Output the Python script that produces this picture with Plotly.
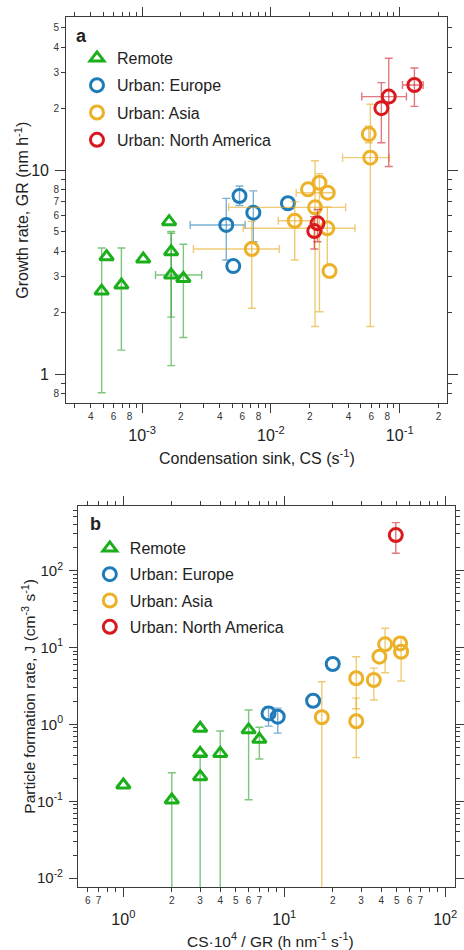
import plotly.graph_objects as go

# ---------------- Panel a : GR vs CS ----------------
a_remote_x = [4.85e-4, 5.3e-4, 6.9e-4, 1.02e-3, 1.62e-3, 1.68e-3, 1.68e-3, 2.09e-3]
a_remote_y = [2.55, 3.76, 2.73, 3.66, 5.58, 3.98, 3.06, 2.94]
a_remote_ylo = [0.81, None, 1.31, None, None, 1.9, 1.1, 1.51]
a_remote_yhi = [4.15, None, 4.15, None, None, 5.0, 4.9, 4.33]
a_remote_xlo = [None, None, None, None, None, None, 1.27e-3, None]
a_remote_xhi = [None, None, None, None, None, None, 2.9e-3, None]

a_eu_x = [0.0057, 0.0073, 0.0045, 0.0051, 0.01355]
a_eu_y = [7.46, 6.18, 5.38, 3.38, 6.87]
a_eu_ylo = [6.7, 4.45, 3.62, None, None]
a_eu_yhi = [8.35, 7.9, 7.26, None, None]
a_eu_xlo = [None, None, 0.00236, None, None]
a_eu_xhi = [None, None, 0.0063, None, None]

a_as_x = [0.0071, 0.0153, 0.0285, 0.0274, 0.022, 0.0194, 0.0238, 0.0276, 0.0575, 0.0591]
a_as_y = [4.1, 5.64, 3.2, 5.18, 6.56, 8.04, 8.66, 7.74, 15.0, 11.5]
a_as_ylo = [2.1, 3.62, None, 3.4, 1.71, None, 2.02, None, 13.6, 1.71]
a_as_yhi = [5.6, 7.0, None, 6.6, 11.1, None, 9.6, None, 16.4, 21.0]
a_as_xlo = [0.0025, 0.0114, None, 0.0061, 0.0047, None, None, 0.0157, None, 0.036]
a_as_xhi = [0.0116, 0.0215, None, 0.045, 0.038, None, None, 0.0306, None, 0.083]

a_na_x = [0.023, 0.0217, 0.072, 0.0822, 0.13]
a_na_y = [5.48, 5.02, 20.1, 22.9, 26.1]
a_na_ylo = [4.45, 4.1, 13.6, 10.4, 20.5]
a_na_yhi = [6.4, 5.9, 26.8, 35.3, 31.6]
a_na_xlo = [None, None, None, 0.0507, 0.105]
a_na_xhi = [None, None, None, 0.1127, 0.152]

# ---------------- Panel b : J vs CS*1e4/GR ----------------
# a lower bound of 0 means the bar runs off the bottom of the axis
b_remote_x = [1.0, 2.0, 3.0, 3.0, 3.0, 4.0, 6.0, 7.0]
b_remote_y = [0.163, 0.104, 0.89, 0.42, 0.209, 0.42, 0.85, 0.64]
b_remote_ylo = [None, 0, None, None, 0, 0, 0.105, 0.355]
b_remote_yhi = [None, 0.235, None, None, 0.4, 0.82, 1.54, 0.92]

b_eu_x = [7.98, 9.1, 15.1, 20.0]
b_eu_y = [1.39, 1.26, 2.03, 6.1]
b_eu_ylo = [0.95, 0.77, None, None]
b_eu_yhi = [1.7, 1.63, None, None]

b_as_x = [17.1, 28.0, 28.0, 36.0, 39.0, 42.3, 52.5, 53.2]
b_as_y = [1.24, 1.1, 3.98, 3.78, 7.6, 11.0, 11.3, 8.8]
b_as_ylo = [0, 0.37, 1.6, 2.08, None, 4.7, None, 3.67]
b_as_yhi = [3.59, 2.2, 7.6, 5.4, None, 17.8, None, 13.8]

b_na_x = [49.3]
b_na_y = [290.0]
b_na_ylo = [168.0]
b_na_yhi = [420.0]

series_names = ["Remote", "Urban: Europe", "Urban: Asia", "Urban: North America"]

# ---------------- tick labels ----------------
a_x_major = [1e-3, 1e-2, 1e-1]
a_x_major_text = ["10<sup>-3</sup>", "10<sup>-2</sup>", "10<sup>-1</sup>"]
a_x_minor = [3e-4, 4e-4, 5e-4, 6e-4, 7e-4, 8e-4, 9e-4] + [k * 1e-3 for k in range(2, 10)] + \
            [k * 1e-2 for k in range(2, 10)] + [2e-1]
a_x_lab = [4e-4, 6e-4, 8e-4, 2e-3, 4e-3, 6e-3, 8e-3, 2e-2, 4e-2, 6e-2, 8e-2, 2e-1]
a_x_lab_text = ["4", "6", "8", "2", "4", "6", "8", "2", "4", "6", "8", "2"]

a_y_major = [1, 10]
a_y_major_text = ["1", "10"]
a_y_minor = [0.8, 0.9] + list(range(2, 10)) + [20, 30, 40, 50]
a_y_lab = [0.8, 2, 3, 4, 5, 6, 7, 8, 20, 30, 40, 50]
a_y_lab_text = ["8", "2", "3", "4", "5", "6", "7", "8", "2", "3", "4", "5"]

b_x_major = [1, 10, 100]
b_x_major_text = ["10<sup>0</sup>", "10<sup>1</sup>", "10<sup>2</sup>"]
b_x_minor = [0.6, 0.7, 0.8, 0.9] + list(range(2, 10)) + [k * 10 for k in range(2, 10)]
b_x_lab = [0.6, 0.7, 2, 3, 4, 5, 6, 7, 20, 30, 40, 50, 60, 70]
b_x_lab_text = ["6", "7", "2", "3", "4", "5", "6", "7", "2", "3", "4", "5", "6", "7"]

b_y_major = [0.01, 0.1, 1, 10, 100]
b_y_major_text = ["10<sup>-2</sup>", "10<sup>-1</sup>", "10<sup>0</sup>", "10<sup>1</sup>", "10<sup>2</sup>"]
b_y_minor = [m * d for d in [0.01, 0.1, 1, 10, 100] for m in range(2, 10) if m * d < 700]

# ---------------- styles ----------------
W, H = 464, 950
FONT = "Arial, Liberation Sans, Helvetica, sans-serif"
AX = "#3a3a3a"
COLORS = ["#1caf1c", "#1f7bb8", "#ecb128", "#d9191f"]
ERRCOLORS = ["rgba(40,160,40,0.6)", "rgba(31,123,184,0.6)", "rgba(228,168,30,0.6)", "rgba(205,30,40,0.6)"]
SYMBOLS = ["triangle-up-open", "circle-open", "circle-open", "circle-open"]
SIZES = [12, 13, 13, 13]


def px(x):
    return x / W


def py(y):
    return 1 - y / H


fig = go.Figure()


def add_series(i, x, y, ylo, yhi, xlo, xhi, xa, ya, legend):
    n = len(x)
    iy = [k for k in range(n) if ylo[k] is not None]
    if iy:
        fig.add_trace(go.Scatter(
            x=[x[k] for k in iy], y=[y[k] for k in iy], mode="markers",
            marker=dict(size=2, opacity=0),
            error_y=dict(type="data", symmetric=False,
                         array=[yhi[k] - y[k] for k in iy],
                         arrayminus=[y[k] - ylo[k] for k in iy],
                         color=ERRCOLORS[i], thickness=1.4, width=4),
            showlegend=False, hoverinfo="skip", xaxis=xa, yaxis=ya))
    if xlo is not None:
        ix = [k for k in range(n) if xlo[k] is not None]
        if ix:
            fig.add_trace(go.Scatter(
                x=[x[k] for k in ix], y=[y[k] for k in ix], mode="markers",
                marker=dict(size=2, opacity=0),
                error_x=dict(type="data", symmetric=False,
                             array=[xhi[k] - x[k] for k in ix],
                             arrayminus=[x[k] - xlo[k] for k in ix],
                             color=ERRCOLORS[i], thickness=1.4, width=4),
                showlegend=False, hoverinfo="skip", xaxis=xa, yaxis=ya))
    fig.add_trace(go.Scatter(
        x=x, y=y, mode="markers", name=series_names[i],
        marker=dict(symbol=SYMBOLS[i], size=SIZES[i], color=COLORS[i],
                    line=dict(width=3, color=COLORS[i])),
        legend=legend, legendgroup=legend + str(i), xaxis=xa, yaxis=ya))


a_sets = [
    (a_remote_x, a_remote_y, a_remote_ylo, a_remote_yhi, a_remote_xlo, a_remote_xhi),
    (a_eu_x, a_eu_y, a_eu_ylo, a_eu_yhi, a_eu_xlo, a_eu_xhi),
    (a_as_x, a_as_y, a_as_ylo, a_as_yhi, a_as_xlo, a_as_xhi),
    (a_na_x, a_na_y, a_na_ylo, a_na_yhi, a_na_xlo, a_na_xhi),
]
for i, s in enumerate(a_sets):
    add_series(i, *s, xa="x", ya="y", legend="legend")

b_sets = [
    (b_remote_x, b_remote_y, b_remote_ylo, b_remote_yhi),
    (b_eu_x, b_eu_y, b_eu_ylo, b_eu_yhi),
    (b_as_x, b_as_y, b_as_ylo, b_as_yhi),
    (b_na_x, b_na_y, b_na_ylo, b_na_yhi),
]
for i, s in enumerate(b_sets):
    add_series(i, *s, None, None, xa="x2", ya="y2", legend="legend2")

# invisible anchor traces so the overlaid label axes get drawn
for xa, ya, xs, ys in [("x3", "y", a_x_lab, a_y_lab), ("x", "y3", a_x_lab, a_y_lab),
                       ("x4", "y2", b_x_lab, b_y_major)]:
    fig.add_trace(go.Scatter(x=[xs[3]], y=[ys[3]], mode="markers",
                             marker=dict(size=1, opacity=0), showlegend=False,
                             hoverinfo="skip", xaxis=xa, yaxis=ya))

# domains (pixels -> paper)
a_xdom = [px(67), px(453)]
a_ydom = [py(403), py(17)]
b_xdom = [px(79), px(461)]
b_ydom = [py(887), py(506)]
a_xr = [-3.59, -0.632]
a_yr = [-0.142, 1.75]
b_xr = [-0.282, 2.061]
b_yr = [-2.114, 2.84]


def base_axis(dom, rng, anchor, tv, tt, fs, tlen, standoff, minor_vals, mlen):
    return dict(type="log", domain=dom, range=rng, anchor=anchor,
                tickmode="array", tickvals=tv, ticktext=tt,
                tickfont=dict(size=fs, color="#222", family=FONT),
                ticks="outside", ticklen=tlen, tickwidth=1, tickcolor=AX,
                ticklabelstandoff=standoff,
                minor=dict(tickmode="array", tickvals=minor_vals, ticks="outside",
                           ticklen=mlen, tickwidth=1, tickcolor=AX, showgrid=False),
                showline=True, linecolor=AX, linewidth=1, mirror="ticks",
                showgrid=False, zeroline=False, fixedrange=True)


def label_axis(rng, overlay, anchor, side, tv, tt, fs, tlen):
    return dict(type="log", range=rng, overlaying=overlay, anchor=anchor, side=side,
                tickmode="array", tickvals=tv, ticktext=tt,
                tickfont=dict(size=fs, color="#333", family=FONT),
                ticks="outside", ticklen=tlen, tickwidth=1, tickcolor=AX,
                showline=False, showgrid=False, zeroline=False, fixedrange=True)


fig.update_layout(
    width=W, height=H, margin=dict(l=0, r=0, t=0, b=0),
    paper_bgcolor="white", plot_bgcolor="white",
    font=dict(family=FONT, color="#222"),
    showlegend=True,
    xaxis=base_axis(a_xdom, a_xr, "y", a_x_major, a_x_major_text, 16, 9, 9, a_x_minor, 4),
    yaxis=base_axis(a_ydom, a_yr, "x", a_y_major, a_y_major_text, 16, 10, 3, a_y_minor, 4),
    xaxis2=base_axis(b_xdom, b_xr, "y2", b_x_major, b_x_major_text, 16, 9, 9, b_x_minor, 4),
    yaxis2=base_axis(b_ydom, b_yr, "x2", b_y_major, b_y_major_text, 15, 8, 3, b_y_minor, 4),
    xaxis3=label_axis(a_xr, "x", "y", "bottom", a_x_lab, a_x_lab_text, 10, 4),
    yaxis3=label_axis(a_yr, "y", "x", "left", a_y_lab, a_y_lab_text, 10, 4),
    xaxis4=label_axis(b_xr, "x2", "y2", "bottom", b_x_lab, b_x_lab_text, 10, 4),
    legend=dict(x=px(78), y=py(41), xanchor="left", yanchor="top",
                font=dict(size=16, family=FONT, color="#222"),
                bgcolor="rgba(0,0,0,0)", traceorder="grouped", tracegroupgap=3.5,
                itemsizing="trace"),
    legend2=dict(x=px(91), y=py(531), xanchor="left", yanchor="top",
                 font=dict(size=16, family=FONT, color="#222"),
                 bgcolor="rgba(0,0,0,0)", traceorder="grouped", tracegroupgap=2.5,
                 itemsizing="trace"),
)

ann = [
    dict(text="<b>a</b>", x=px(83), y=py(36), size=18, angle=0),
    dict(text="<b>b</b>", x=px(97), y=py(524), size=18, angle=0),
    dict(text="Condensation sink, CS (s<sup>-1</sup>)", x=px(260), y=py(457), size=16, angle=0),
    dict(text="Growth rate, GR (nm h<sup>-1</sup>)", x=px(22), y=py(210), size=16, angle=-90),
    dict(text="CS\u00b710<sup>4</sup> / GR (h nm<sup>-1</sup> s<sup>-1</sup>)", x=px(274), y=py(940), size=15.5, angle=0),
    dict(text="Particle formation rate, J (cm<sup>-3</sup> s<sup>-1</sup>)", x=px(29), y=py(696), size=15.5, angle=-90),
]
for a in ann:
    fig.add_annotation(text=a["text"], x=a["x"], y=a["y"], xref="paper", yref="paper",
                       xanchor="center", yanchor="middle", showarrow=False,
                       textangle=a["angle"], font=dict(size=a["size"], family=FONT, color="#222"))

fig.write_html("out.html")
